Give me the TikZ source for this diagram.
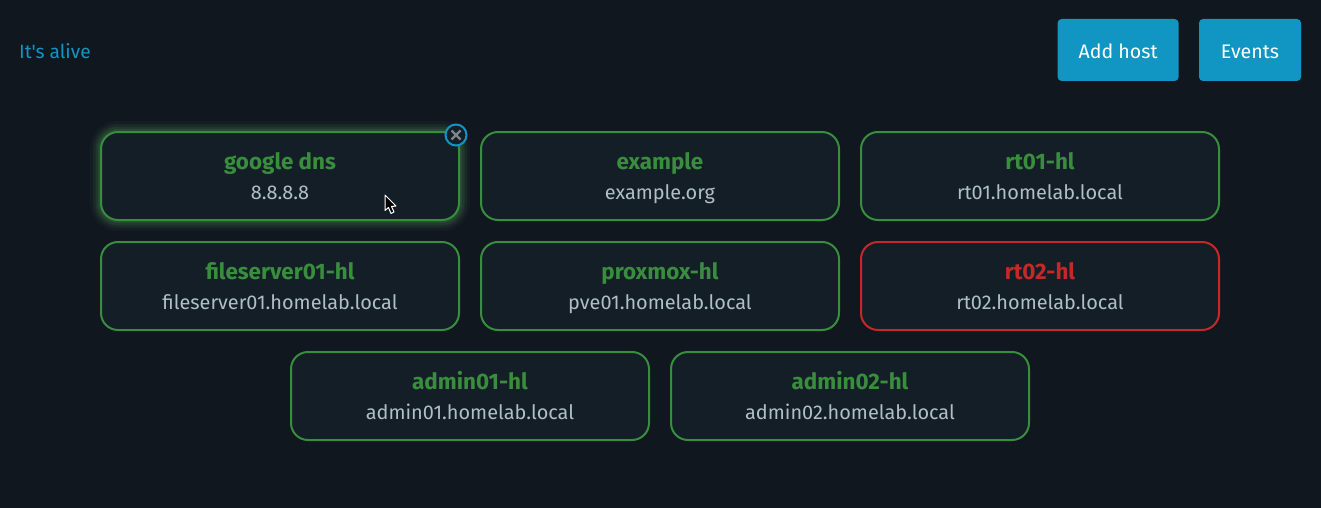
\documentclass[tikz,border=0pt]{standalone}
\usepackage{fontspec}
\setmainfont{Fira Sans}[Ligatures=TeXOff]
\usetikzlibrary{positioning}
\definecolor{pagebg}{RGB}{16,23,31}
\definecolor{cardbg}{RGB}{20,30,39}
\definecolor{upgreen}{RGB}{56,142,60}
\definecolor{downred}{RGB}{198,40,40}
\definecolor{btnblue}{RGB}{17,150,195}
\definecolor{subgray}{RGB}{176,190,197}
\newcommand{\hostlabel}[3]{{\fontsize{22.4}{24}\selectfont\bfseries\textcolor{#1}{#2}\rule[-6pt]{0pt}{28pt}}\\{\fontsize{19.9}{24}\selectfont\textcolor{subgray}{#3}\rule[-5pt]{0pt}{28pt}}}

\begin{document}
\begin{tikzpicture}[
  x=1pt, y=-1pt,
  node distance=22pt,
  hostcard/.style={draw=upgreen, fill=cardbg, line width=2pt, rounded corners=17pt, align=center, minimum width=358pt, minimum height=88pt, inner sep=0pt, outer sep=0pt},
  hostdown/.style={hostcard, draw=downred},
  hostglow/.style={preaction={draw=upgreen!75, line width=22pt, opacity=.05}, preaction={draw=upgreen!75, line width=16pt, opacity=.08}, preaction={draw=upgreen!85, line width=11pt, opacity=.14}, preaction={draw=upgreen, line width=6pt, opacity=.22}},
  topbtn/.style={fill=btnblue, rounded corners=4pt, text=white, minimum height=62pt, inner sep=0pt, text height=20pt, text depth=2pt, font=\fontsize{19.6}{24}\selectfont},
  closebtn/.style={circle, draw=btnblue, fill=cardbg, line width=2pt, minimum size=21pt, inner sep=0pt},
  closex/.style={draw=subgray!70!black, line width=2.4pt}
]
\fill[pagebg] (0,0) rectangle (1321,508);
\useasboundingbox (0,0) rectangle (1321,508);

% header
\node[anchor=west, text=btnblue, inner sep=0pt, font=\fontsize{19.2}{24}\selectfont] (alive) at (19,51) {It's alive};
\node[topbtn, minimum width=102pt] (events) at (1250,50) {Events};
\node[topbtn, minimum width=121pt, left=20pt of events] (addhost) {Add host};

% host cards
\node[hostcard, hostglow] (google) at (280,176) {\hostlabel{upgreen}{google dns}{8.8.8.8}};
\node[hostcard, right=of google] (example) {\hostlabel{upgreen}{example}{example.org}};
\node[hostcard, right=of example] (rtone) {\hostlabel{upgreen}{rt01-hl}{rt01.homelab.local}};
\node[hostcard, below=of google] (fileserver) {\hostlabel{upgreen}{fileserver01-hl}{fileserver01.homelab.local}};
\node[hostcard, right=of fileserver] (proxmox) {\hostlabel{upgreen}{proxmox-hl}{pve01.homelab.local}};
\node[hostdown, right=of proxmox] (rttwo) {\hostlabel{downred}{rt02-hl}{rt02.homelab.local}};
\node[hostcard] (adminone) at (470,396) {\hostlabel{upgreen}{admin01-hl}{admin01.homelab.local}};
\node[hostcard, right=of adminone] (admintwo) {\hostlabel{upgreen}{admin02-hl}{admin02.homelab.local}};

% close button on the hovered card
\node[closebtn] (close) at (456,135) {};
\draw[closex] ([shift={(-4.5,-4.5)}]close.center) -- ([shift={(4.5,4.5)}]close.center);
\draw[closex] ([shift={(-4.5,4.5)}]close.center) -- ([shift={(4.5,-4.5)}]close.center);

% mouse pointer
\draw[white, fill=black, line width=1pt, line join=round] (385,195) -- (385,210.5) -- (388.5,207.5) -- (391,213.5) -- (394,212) -- (391.5,206.5) -- (396,206) -- cycle;
\end{tikzpicture}
\end{document}
